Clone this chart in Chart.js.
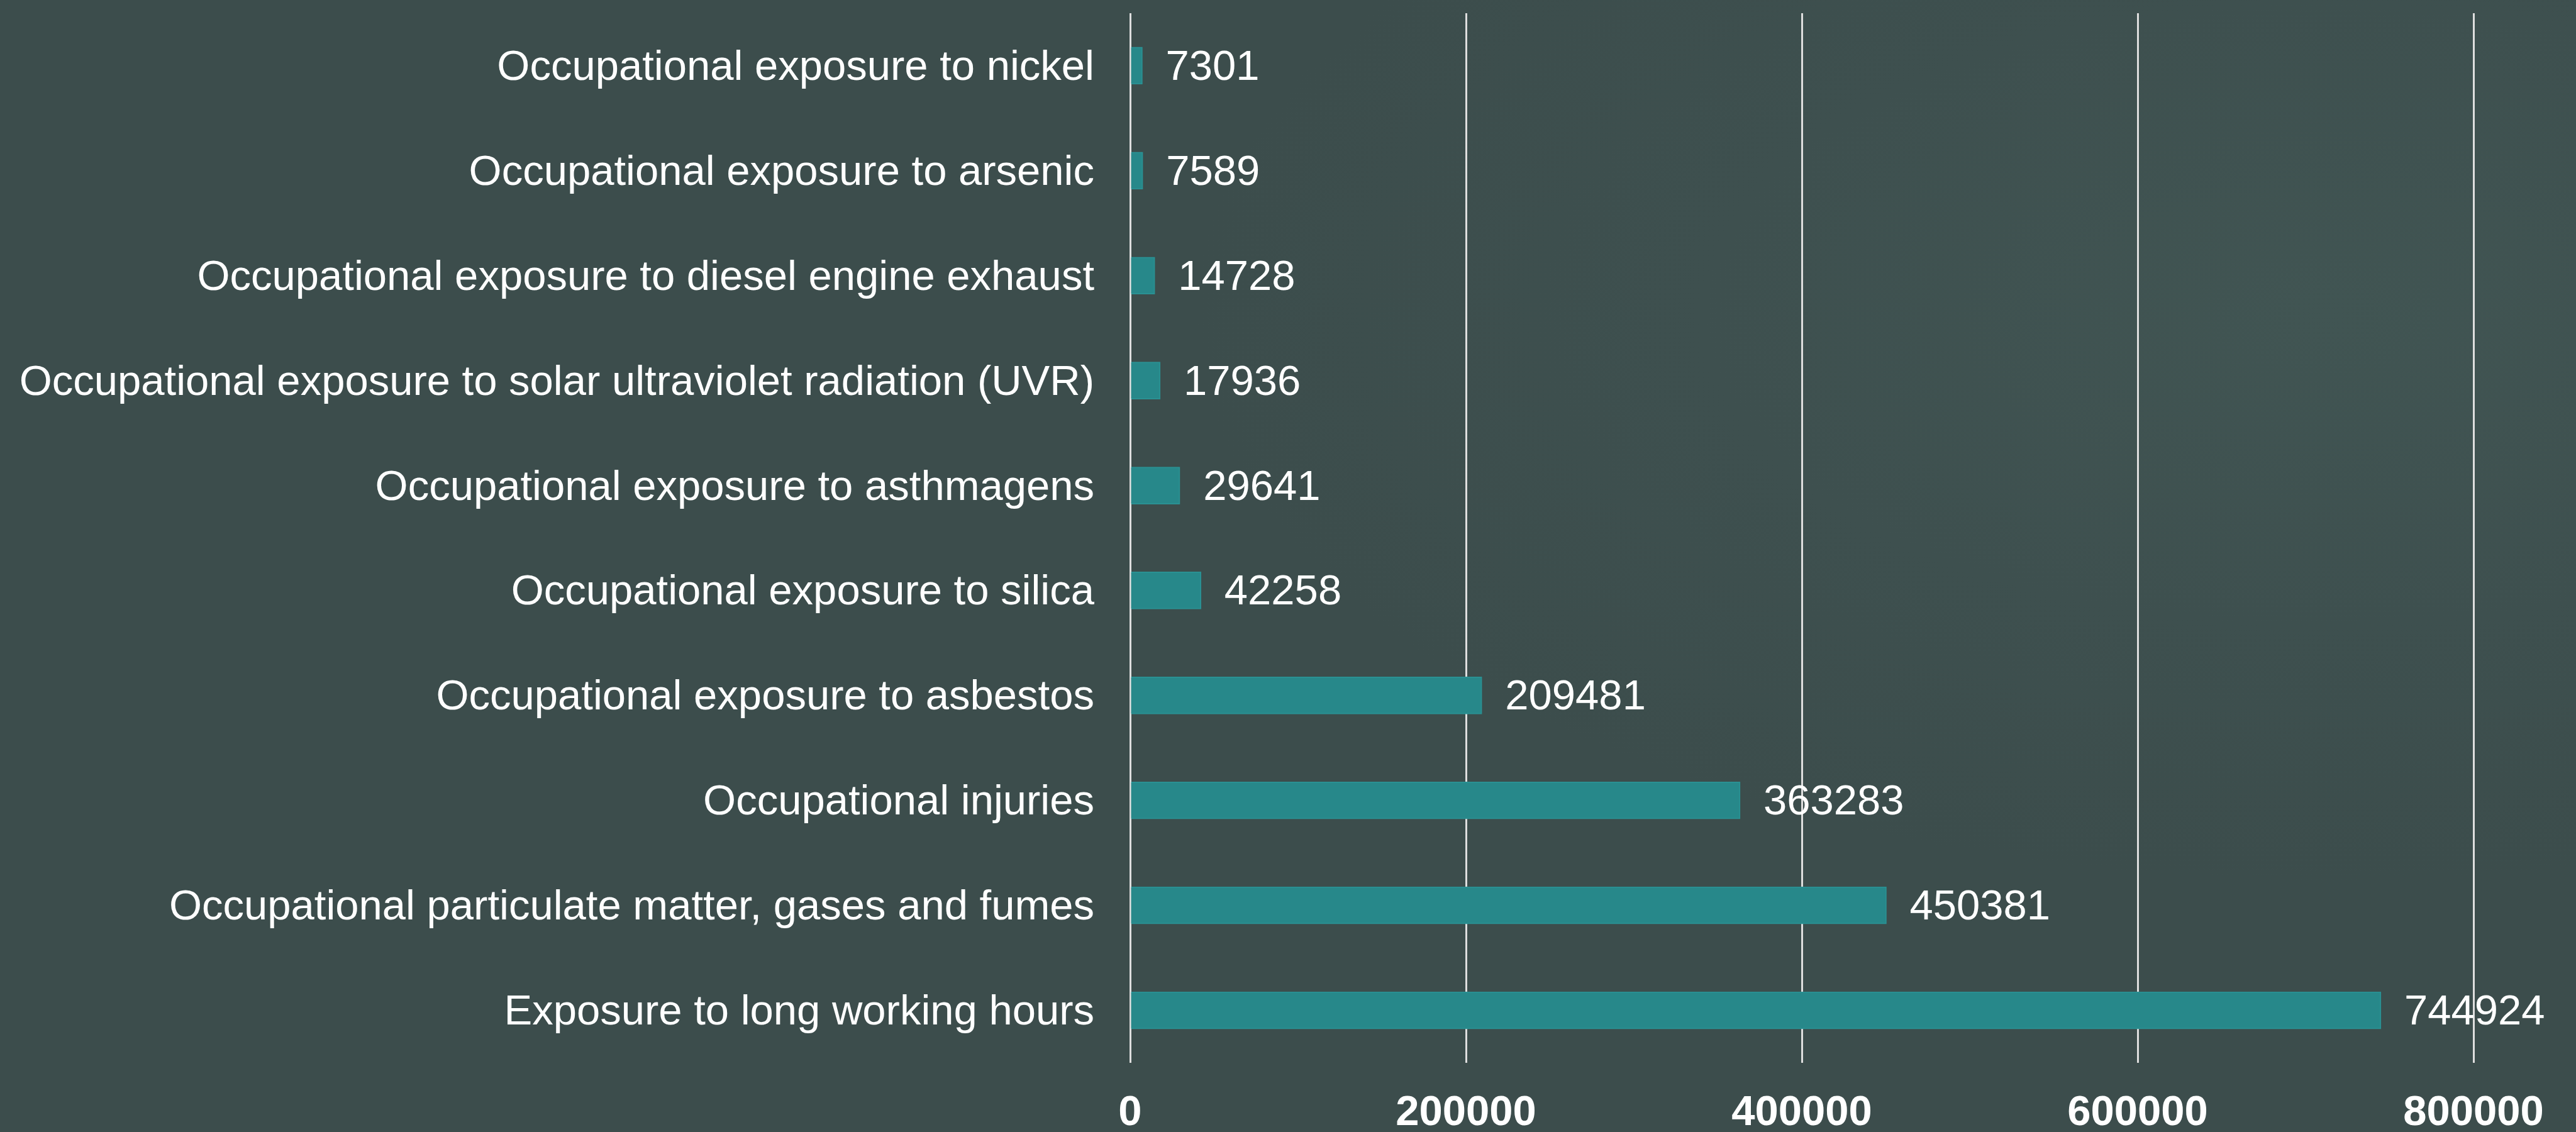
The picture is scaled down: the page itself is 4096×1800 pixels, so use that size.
<!DOCTYPE html>
<html>
<head>
<meta charset="utf-8">
<script src="https://cdn.jsdelivr.net/npm/chart.js@4/dist/chart.umd.min.js"></script>
<style>
  html, body { margin: 0; padding: 0; }
  body {
    width: 4096px; height: 1800px; overflow: hidden;
    background: radial-gradient(ellipse 1800px 900px at 3700px 500px, #415553 0%, #3e504f 55%, #3c4d4c 100%);
  }
  #wrap { position: relative; width: 4096px; height: 1800px; }
</style>
</head>
<body>
<div id="wrap"><canvas id="chart" width="4096" height="1800"></canvas></div>
<script>
// Deaths attributable to occupational risk factors
const categories = [
  "Occupational exposure to nickel",
  "Occupational exposure to arsenic",
  "Occupational exposure to diesel engine exhaust",
  "Occupational exposure to solar ultraviolet radiation (UVR)",
  "Occupational exposure to asthmagens",
  "Occupational exposure to silica",
  "Occupational exposure to asbestos",
  "Occupational injuries",
  "Occupational particulate matter, gases and fumes",
  "Exposure to long working hours"
];
const deaths = [7301, 7589, 14728, 17936, 29641, 42258, 209481, 363283, 450381, 744924];
const xTicks = [0, 200000, 400000, 600000, 800000];

const FONT = "'Liberation Sans', Arial, Helvetica, sans-serif";

// Writes each bar's value just past its end
const valueLabels = {
  id: 'valueLabels',
  afterDatasetsDraw(chart) {
    const ctx = chart.ctx;
    const meta = chart.getDatasetMeta(0);
    ctx.save();
    ctx.font = "67px " + FONT;
    ctx.fillStyle = "#ffffff";
    ctx.textAlign = "left";
    ctx.textBaseline = "middle";
    meta.data.forEach((bar, i) => {
      ctx.fillText(String(chart.data.datasets[0].data[i]), bar.x + 37, bar.y + 4);
    });
    ctx.restore();
  }
};

new Chart(document.getElementById('chart'), {
  type: 'bar',
  data: {
    labels: categories,
    datasets: [{
      data: deaths,
      backgroundColor: '#27888a',
      borderColor: '#2a9193',
      borderWidth: 2,
      borderSkipped: 'left',
      barThickness: 59
    }]
  },
  plugins: [valueLabels],
  options: {
    indexAxis: 'y',
    responsive: false,
    animation: false,
    layout: { padding: { top: 21, right: 163, left: 0, bottom: 0 } },
    plugins: { legend: { display: false }, tooltip: { enabled: false } },
    scales: {
      x: {
        min: 0,
        max: 800000,
        afterBuildTicks(axis) { axis.ticks = xTicks.map(v => ({ value: v })); },
        afterFit(axis) {
          axis.height = 110;
          axis.paddingLeft = 0;
          axis.paddingRight = 0;
        },
        border: { display: false },
        grid: { color: '#dedede', lineWidth: 3, drawTicks: false },
        ticks: {
          color: '#ffffff',
          padding: 40,
          callback: (v) => String(v),
          font: { family: FONT, size: 67, weight: 'bold' }
        }
      },
      y: {
        afterFit(axis) {
          axis.width = 1797;
          axis.paddingTop = 0;
          axis.paddingBottom = 0;
        },
        border: { display: false },
        grid: { display: false, drawTicks: false },
        ticks: {
          color: '#ffffff',
          padding: 57,
          labelOffset: 4,
          font: { family: FONT, size: 67 }
        }
      }
    }
  }
});
</script>
</body>
</html>
